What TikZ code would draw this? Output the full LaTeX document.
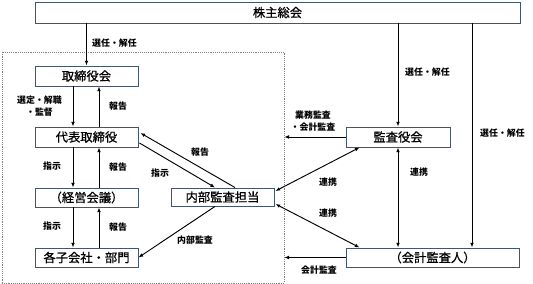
\documentclass[tikz,border=0pt]{standalone}
\usepackage{fontspec}
\newfontfamily\jp{Noto Sans CJK JP}
\newfontfamily\jpbox{Noto Sans CJK JP}[FakeBold=0.8]
\usetikzlibrary{calc, arrows.meta}
\definecolor{boxline}{HTML}{44546A}

\begin{document}
\begin{tikzpicture}[x=0.03cm, y=-0.03cm, font=\jp,
    box/.style={draw=boxline, line width=0.8pt, fill=white, inner sep=0pt,
        minimum width={103*0.03cm}, minimum height={20*0.03cm},
        font=\jpbox\fontsize{10.5}{12}\selectfont},
    lbl/.style={font=\jp\bfseries\fontsize{7.6}{10}\selectfont, inner sep=0pt, align=center},
    arr/.style={-{Latex[length=4pt,width=3.2pt]}, line width=0.8pt},
    twoway/.style={{Latex[length=4pt,width=3.2pt]}-{Latex[length=4pt,width=3.2pt]}, line width=0.8pt}]
    \useasboundingbox (0,0) rectangle (533,284);

    % Group (dotted frame)
    \node[draw=gray, densely dotted, line width=0.6pt, inner sep=0pt,
        minimum width={282*0.03cm}, minimum height={231*0.03cm}] (group) at (143,167.5) {};

    % Boxes
    \node[box, minimum width={485*0.03cm}, minimum height={21*0.03cm}] (kabu) at (277.5,12.5) {株主総会};
    \node[box] (tori) at (86.5,76) {取締役会};
    \node[box] (daihyo) at (86.5,137) {代表取締役};
    \node[box, minimum height={19*0.03cm}] (keiei) at (86.5,197.5) {（経営会議）};
    \node[box, minimum height={19*0.03cm}] (kogaisha) at (86.5,257.5) {各子会社・部門};
    \node[box, minimum height={18*0.03cm}] (naibu) at (222.5,197) {内部監査担当};
    \node[box, minimum width={104*0.03cm}] (kansa) at (398,137) {監査役会};
    \node[box, minimum width={173*0.03cm}, minimum height={19*0.03cm}] (kaikei) at (432.5,257.5) {（会計監査人）};

    % Shareholders -> boards
    \coordinate (kaikeiIn) at ($(kaikei.north)+(39.5,0)$);
    \draw[arr] (kabu.south -| tori.north) -- (tori.north);
    \draw[arr] (kabu.south -| kansa.north) -- (kansa.north);
    \draw[arr] (kabu.south -| kaikeiIn) -- (kaikeiIn);
    \node[lbl, anchor=west] (sen1) at (92,43) {選任・解任};
    \node[lbl, anchor=west] (sen2) at (405,72) {選任・解任};
    \node[lbl, anchor=west] (sen3) at (480,133) {選任・解任};

    % Down / up lines of the left column
    \foreach \a/\b in {tori/daihyo, daihyo/keiei, keiei/kogaisha} {
        \draw[arr] ($(\a.south)+(-13.5,0)$) -- ($(\b.north)+(-13.5,0)$);
        \draw[arr] ($(\b.north)+(12.5,0)$) -- ($(\a.south)+(12.5,0)$);
        \node[lbl] at ($(\a.south)!0.5!(\b.north)+(31.5,0)$) {報告};
    }
    \node[lbl] (sentei) at (39.5,106) {選定・解職\\・監督};
    \node[lbl] (shiji1) at (52,166) {指示};
    \node[lbl] (shiji2) at (52,226) {指示};

    % Internal audit
    \draw[arr] ($(daihyo.east)+(1,6)$) -- ($(naibu.north)+(-7.5,0)$);
    \draw[arr] ($(naibu.north)+(12.5,0)$) -- ($(daihyo.east)+(2,-4)$);
    \draw[arr] ($(naibu.south)+(-7.5,0)$) -- (kogaisha.east);
    \node[lbl] (hokoku) at (200,152) {報告};
    \node[lbl] (shiji3) at (160,173) {指示};
    \node[lbl] (naibukansa) at (195,240) {内部監査};

    % Audit board / accounting auditor
    \draw[arr] (kansa.west) -- (kansa.west -| group.east);
    \draw[arr] (kaikei.west) -- (kaikei.west -| group.east);
    \draw[twoway] ($(naibu.east)+(1,-6)$) -- ($(kansa.south west)+(14,0)$);
    \draw[twoway] ($(naibu.east)+(1,7)$) -- ($(kaikei.north west)+(14,0)$);
    \draw[twoway] (kansa.south) -- (kansa.south |- kaikei.north);
    \node[lbl] (gyomu) at (313,121) {業務監査\\・会計監査};
    \node[lbl] (kaikeikansa) at (319,270) {会計監査};
    \node[lbl] (renkei1) at (328,182) {連携};
    \node[lbl] (renkei2) at (328,213) {連携};
    \node[lbl] (renkei3) at (419,172) {連携};
\end{tikzpicture}
\end{document}
